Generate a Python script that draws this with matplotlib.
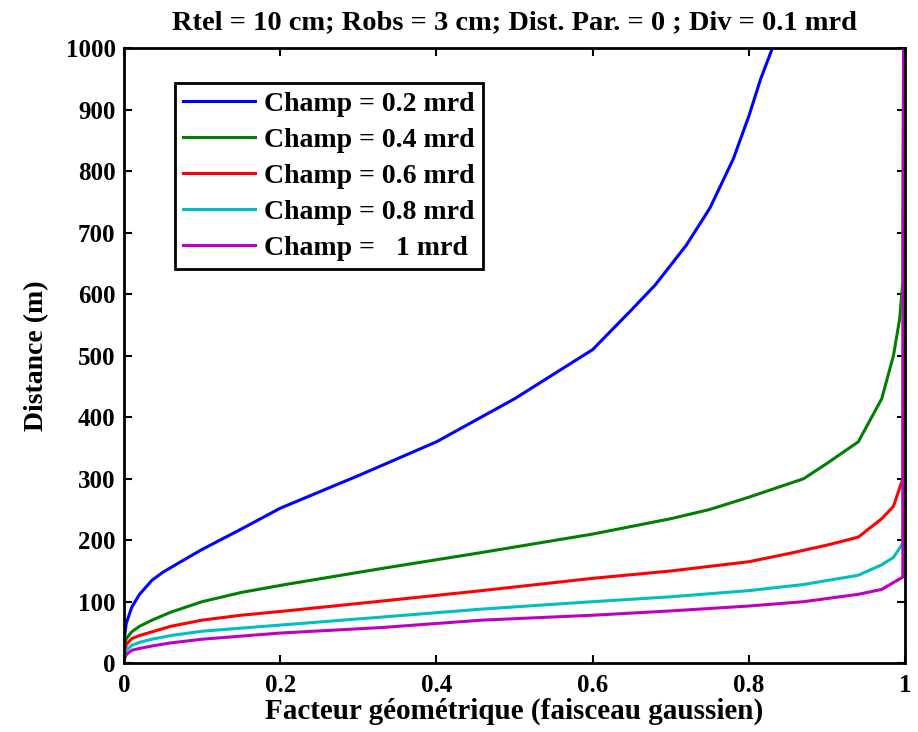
import matplotlib
matplotlib.use("Agg")
import matplotlib.pyplot as plt

title = "Rtel = 10 cm; Robs = 3 cm; Dist. Par. = 0 ; Div = 0.1 mrd"
xlabel = "Facteur géométrique (faisceau gaussien)"
ylabel = "Distance (m)"
labels = ["Champ = 0.2 mrd", "Champ = 0.4 mrd", "Champ = 0.6 mrd",
          "Champ = 0.8 mrd", "Champ =   1 mrd"]
colors = ["#0000ff", "#008000", "#ff0000", "#00bfbf", "#bf00bf"]

x_02 = [0.0, 0.003, 0.01, 0.02, 0.036, 0.05, 0.07, 0.1, 0.15, 0.2, 0.3, 0.4, 0.5, 0.6, 0.65, 0.68, 0.72, 0.75, 0.78, 0.8, 0.815, 0.83]
y_02 = [35, 65, 91, 112, 135, 148, 163, 185, 218, 252, 305, 360, 430, 510, 575, 615, 680, 740, 820, 890, 950, 1000]

x_04 = [0.0, 0.003, 0.01, 0.02, 0.036, 0.06, 0.1, 0.15, 0.207, 0.33, 0.458, 0.6, 0.7, 0.75, 0.8, 0.87, 0.9, 0.94, 0.97, 0.985, 0.993, 0.997, 0.998]
y_04 = [25, 40, 51, 60, 70, 83, 100, 115, 128, 154, 180, 210, 235, 250, 270, 300, 325, 360, 430, 500, 560, 620, 1000]

x_06 = [0.0, 0.003, 0.01, 0.02, 0.036, 0.06, 0.1, 0.15, 0.207, 0.33, 0.458, 0.6, 0.7, 0.8, 0.85, 0.9, 0.94, 0.97, 0.985, 0.997, 0.998]
y_06 = [15, 30, 40, 45, 51, 60, 70, 78, 85, 101, 118, 138, 150, 165, 178, 192, 205, 235, 255, 300, 1000]

x_08 = [0.0, 0.003, 0.01, 0.02, 0.036, 0.06, 0.1, 0.15, 0.2, 0.33, 0.458, 0.6, 0.7, 0.8, 0.87, 0.94, 0.97, 0.985, 0.997, 0.998]
y_08 = [10, 21, 29, 34, 39, 45, 52, 57, 62, 75, 88, 100, 108, 118, 128, 143, 160, 172, 195, 1000]

x_10 = [0.0, 0.003, 0.01, 0.02, 0.036, 0.06, 0.1, 0.15, 0.2, 0.33, 0.458, 0.6, 0.7, 0.8, 0.87, 0.94, 0.97, 0.997, 0.998]
y_10 = [5, 14, 21, 24, 28, 33, 39, 44, 49, 58, 70, 78, 85, 93, 100, 112, 120, 140, 1000]

series = [(x_02, y_02), (x_04, y_04), (x_06, y_06), (x_08, y_08), (x_10, y_10)]

plt.rcParams['font.family'] = ['Liberation Serif', 'DejaVu Serif']
plt.rcParams['font.weight'] = 'bold'

fig = plt.figure(figsize=(9.18, 7.32), dpi=100)
ax = fig.add_axes([0.135, 0.094, 0.851, 0.84])

for (xs, ys), c, lab in zip(series, colors, labels):
    ax.plot(xs, ys, color=c, lw=2.2, label=lab)

ax.set_xlim(0, 1)
ax.set_ylim(0, 1000)
ax.set_xticks([0, 0.2, 0.4, 0.6, 0.8, 1])
ax.set_xticklabels(["0", "0.2", "0.4", "0.6", "0.8", "1"])
ax.set_yticks(range(0, 1001, 100))
ax.tick_params(direction='in', top=True, right=True, length=6, width=1.5, labelsize=18)
ax.tick_params(axis='x', pad=8)
ax.tick_params(axis='y', pad=6)
for lbl in ax.get_xticklabels() + ax.get_yticklabels():
    lbl.set_fontweight('bold')
for s in ax.spines.values():
    s.set_linewidth(2)

ax.set_title(title, fontsize=20.5, fontweight='bold', pad=14)
ax.set_xlabel(xlabel, fontsize=21, fontweight='bold', labelpad=0)
ax.set_ylabel(ylabel, fontsize=20, fontweight='bold', labelpad=12)

leg = ax.legend(loc='upper left', bbox_to_anchor=(0.065, 0.943), fontsize=20,
                frameon=True, fancybox=False, edgecolor='black', handlelength=2.6,
                borderpad=0.3, labelspacing=0.38, handletextpad=0.3, framealpha=1,
                borderaxespad=0)
leg.get_frame().set_linewidth(2)
for t in leg.get_texts():
    t.set_fontweight('bold')

fig.savefig("out.png", dpi=100)
